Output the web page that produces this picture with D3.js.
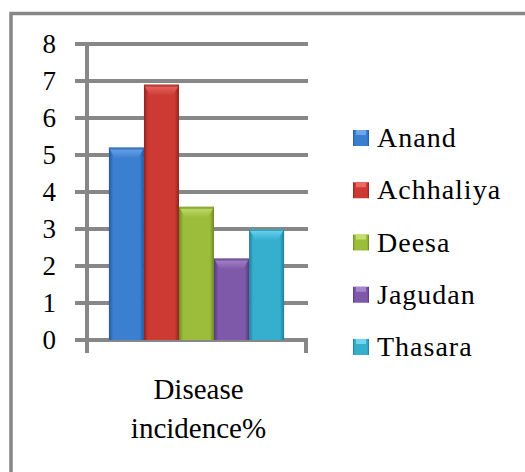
<!DOCTYPE html>
<html>
<head>
<meta charset="utf-8">
<script src="https://cdn.jsdelivr.net/npm/d3@7"></script>
<style>
  html, body { margin: 0; padding: 0; background: #fff; }
  svg { display: block; }
  svg text { font-family: 'Times New Roman'; }
</style>
</head>
<body>
<svg id="chart" width="525" height="472"></svg>
<script>
// ---- data ----
const categories = ["Disease incidence%"];
const categoryLines = ["Disease", "incidence%"];
const seriesNames = ["Anand", "Achhaliya", "Deesa", "Jagudan", "Thasara"];
const seriesValues = [5.2, 6.9, 3.6, 2.2, 3.0];
const yTicks = [0, 1, 2, 3, 4, 5, 6, 7, 8];
const seriesColors = [
  { base: "#3b7fd1", light: "#6fa6ea", dark: "#24589a" },
  { base: "#cc3a33", light: "#ea6a62", dark: "#8f231f" },
  { base: "#9cbc3c", light: "#c3de6a", dark: "#6d8a22" },
  { base: "#7e58a9", light: "#a687cd", dark: "#543a78" },
  { base: "#36afcf", light: "#6fd6ef", dark: "#1f7f99" }
];

const FONT = "'Times New Roman'";

const svg = d3.select("#chart");
const defs = svg.append("defs");

// outer frame (right and bottom edges fall outside the picture)
svg.append("rect")
  .attr("x", 11).attr("y", 13.5)
  .attr("width", 530).attr("height", 480)
  .attr("fill", "none").attr("stroke", "#878787").attr("stroke-width", 3.5);

const y = d3.scaleLinear().domain([0, 8]).range([340, 44]);
const x0 = d3.scaleBand().domain(categories).range([87, 306]).paddingOuter(0.125).paddingInner(0);
const x1 = d3.scaleBand().domain(seriesNames).range([0, x0.bandwidth()]).padding(0);
const gx = x0(categories[0]);

// gridlines
svg.selectAll("line.grid").data(yTicks).join("line").attr("class", "grid")
  .attr("x1", 75).attr("x2", 308)
  .attr("y1", d => y(d)).attr("y2", d => y(d))
  .attr("stroke", "#878787").attr("stroke-width", 4);

// axis line and right end tick
svg.append("line").attr("x1", 87).attr("x2", 87).attr("y1", 42).attr("y2", 353)
  .attr("stroke", "#878787").attr("stroke-width", 4);
svg.append("line").attr("x1", 306).attr("x2", 306).attr("y1", 340).attr("y2", 353)
  .attr("stroke", "#878787").attr("stroke-width", 4);

// gradients
seriesColors.forEach((c, i) => {
  const g = defs.append("linearGradient").attr("id", "bar" + i).attr("x1", 0).attr("x2", 1).attr("y1", 0).attr("y2", 0);
  g.append("stop").attr("offset", "0%").attr("stop-color", c.dark);
  g.append("stop").attr("offset", "12%").attr("stop-color", c.base);
  g.append("stop").attr("offset", "88%").attr("stop-color", c.base);
  g.append("stop").attr("offset", "100%").attr("stop-color", c.dark);
  const t = defs.append("linearGradient").attr("id", "cap" + i).attr("x1", 0).attr("x2", 0).attr("y1", 0).attr("y2", 1);
  t.append("stop").attr("offset", "0%").attr("stop-color", c.light);
  t.append("stop").attr("offset", "100%").attr("stop-color", c.base);
});

// bars
const barData = seriesNames.map((n, i) => ({ n, v: seriesValues[i], i }));
svg.selectAll("rect.bar").data(barData).join("rect").attr("class", "bar")
  .attr("x", d => gx + x1(d.n)).attr("width", x1.bandwidth())
  .attr("y", d => y(d.v)).attr("height", d => y(0) - y(d.v))
  .attr("fill", d => `url(#bar${d.i})`);
svg.selectAll("path.cap").data(barData).join("path").attr("class", "cap")
  .attr("d", d => {
    const l = gx + x1(d.n), r = l + x1.bandwidth(), t = y(d.v), b = t + 11;
    return `M${l},${t}L${r},${t}L${r - 6},${b}L${l + 6},${b}Z`;
  })
  .attr("fill", d => `url(#cap${d.i})`);
svg.selectAll("rect.edge").data(barData).join("rect").attr("class", "edge")
  .attr("x", d => gx + x1(d.n)).attr("width", x1.bandwidth())
  .attr("y", d => y(d.v)).attr("height", 2)
  .attr("fill", d => seriesColors[d.i].dark).attr("opacity", 0.6);

// legend markers
const legY = d3.scalePoint().domain(seriesNames).range([138, 347]);
svg.selectAll("rect.lm").data(barData).join("rect").attr("class", "lm")
  .attr("x", 353).attr("y", d => legY(d.n) - 8).attr("width", 16).attr("height", 16)
  .attr("fill", d => `url(#bar${d.i})`);
svg.selectAll("rect.lh").data(barData).join("rect").attr("class", "lh")
  .attr("x", 356).attr("y", d => legY(d.n) - 8).attr("width", 10).attr("height", 5)
  .attr("fill", d => seriesColors[d.i].light);

// y tick labels
svg.selectAll("text.tick").data(yTicks).join("text").attr("class", "tick")
  .attr("x", 56).attr("y", d => y(d) + 9)
  .attr("text-anchor", "end")
  .attr("font-family", FONT).attr("font-size", 27)
  .text(d3.format("d"));

// category label (two lines)
const cx = gx + x0.bandwidth() / 2 + 2;
svg.selectAll("text.cat").data(categoryLines).join("text").attr("class", "cat")
  .attr("x", cx).attr("y", (d, k) => 399 + k * 39)
  .attr("text-anchor", "middle")
  .attr("font-family", FONT).attr("font-size", 29)
  .text(d => d);

// legend labels
svg.selectAll("text.leg").data(seriesNames).join("text").attr("class", "leg")
  .attr("x", 377).attr("y", d => legY(d) + 9)
  .attr("font-family", FONT).attr("font-size", 28).attr("letter-spacing", 1)
  .text(d => d);
</script>
</body>
</html>
